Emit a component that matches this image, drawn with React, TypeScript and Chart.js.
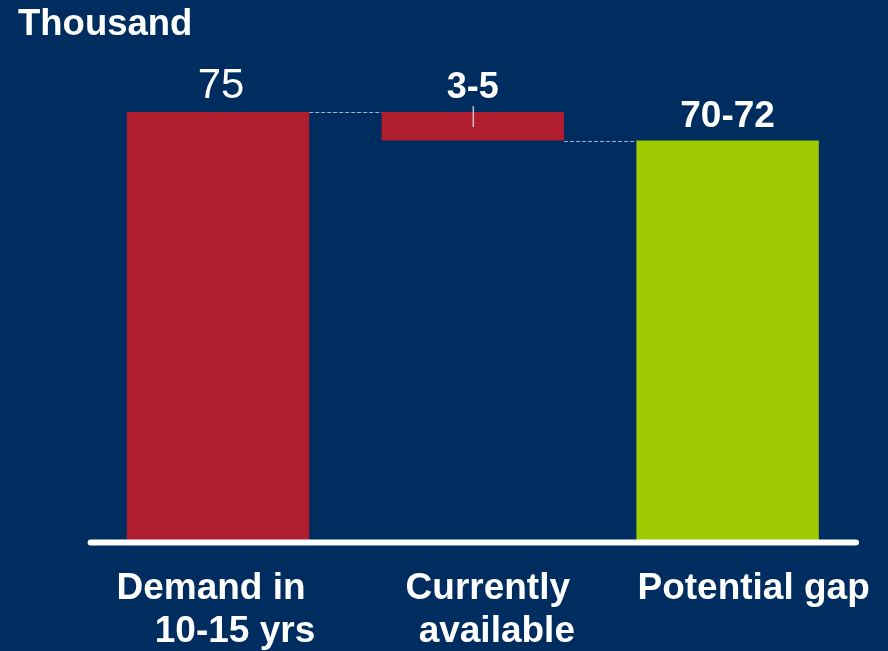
import React, { useEffect, useRef } from "react";
import { Chart, registerables } from "chart.js";

Chart.register(...registerables);

const categories: string[][] = [["Demand in", "10-15 yrs"], ["Currently", "available"], ["Potential gap"]];
const barStarts: number[] = [0, 70, 0];
const barEnds: number[] = [75, 75, 70];
const valueLabels: string[] = ["75", "3-5", "70-72"];
const barColors: string[] = ["#AF1D2F", "#AF1D2F", "#9DCA00"];
const yMin = 0;
const yMax = 75;

const BG = "#002D60";
const FONT = "'Liberation Sans', Arial, Helvetica, sans-serif";

const overlayPlugin = {
  id: "overlay",
  afterDatasetsDraw(chart: any) {
    const ctx = chart.ctx;
    const xs = chart.scales.x;
    const ys = chart.scales.y;
    const meta = chart.getDatasetMeta(0);
    ctx.save();

    // dashed connectors
    ctx.strokeStyle = "rgba(185,195,212,0.9)";
    ctx.lineWidth = 1.2;
    ctx.setLineDash([4, 2]);
    for (let i = 0; i < meta.data.length - 1; i++) {
      const a = meta.data[i];
      const b = meta.data[i + 1];
      const level = i === 0 ? barEnds[i] : barStarts[i];
      const y = Math.round(ys.getPixelForValue(level)) + 0.5;
      ctx.beginPath();
      ctx.moveTo(a.x + a.width / 2, y);
      ctx.lineTo(b.x - b.width / 2, y);
      ctx.stroke();
    }
    ctx.setLineDash([]);

    // small range tick on the middle bar
    const mid = meta.data[1];
    ctx.strokeStyle = "rgba(220,225,235,0.8)";
    ctx.lineWidth = 1.5;
    ctx.beginPath();
    ctx.moveTo(mid.x + 0.5, ys.getPixelForValue(barEnds[1]) - 6);
    ctx.lineTo(mid.x + 0.5, ys.getPixelForValue(barEnds[1]) + 15);
    ctx.stroke();

    // baseline
    const y0 = ys.getPixelForValue(yMin) + 2;
    ctx.strokeStyle = "#FFFFFF";
    ctx.lineWidth = 6;
    ctx.lineCap = "round";
    ctx.beginPath();
    ctx.moveTo(xs.left, y0);
    ctx.lineTo(xs.right + 1, y0);
    ctx.stroke();

    // value labels
    ctx.fillStyle = "#FFFFFF";
    ctx.textAlign = "center";
    ctx.textBaseline = "alphabetic";
    const labelFonts = [`normal 42px ${FONT}`, `bold 36px ${FONT}`, `bold 37px ${FONT}`];
    const labelDx = [3, 0, 0];
    meta.data.forEach((bar: any, i: number) => {
      ctx.font = labelFonts[i];
      const top = ys.getPixelForValue(barEnds[i]);
      ctx.fillText(valueLabels[i], bar.x + labelDx[i], top - 14);
    });

    // category labels
    ctx.font = `bold 37px ${FONT}`;
    const catDx = [[-7, 17], [15, 24], [26]];
    meta.data.forEach((bar: any, i: number) => {
      categories[i].forEach((line, j) => {
        ctx.fillText(line, bar.x + catDx[i][j], 599 + j * 43);
      });
    });

    // unit title
    ctx.textAlign = "left";
    ctx.font = `bold 36.5px ${FONT}`;
    ctx.fillText("Thousand", 18, 35);

    ctx.restore();
  },
};

export default function App() {
  const ref = useRef<HTMLCanvasElement | null>(null);

  useEffect(() => {
    document.body.style.margin = "0";
    const canvas = ref.current;
    if (!canvas) return;
    const chart = new Chart(canvas, {
      type: "bar",
      data: {
        labels: categories.map((c) => c.join(" ")),
        datasets: [
          {
            data: barStarts.map((s, i) => [s, barEnds[i]]) as any,
            backgroundColor: barColors,
            borderWidth: 0,
            barPercentage: 0.716,
            categoryPercentage: 1,
          },
        ],
      },
      options: {
        animation: false,
        responsive: false,
        maintainAspectRatio: false,
        layout: { padding: { left: 90.6, right: 33, top: 112, bottom: 110.5 } },
        plugins: { legend: { display: false }, tooltip: { enabled: false } },
        scales: {
          x: { display: false },
          y: { display: false, min: yMin, max: yMax },
        },
      },
      plugins: [overlayPlugin],
    });
    return () => chart.destroy();
  }, []);

  return (
    <div style={{ width: 888, height: 651, background: BG }}>
      <canvas ref={ref} width={888} height={651} style={{ display: "block" }} />
    </div>
  );
}
